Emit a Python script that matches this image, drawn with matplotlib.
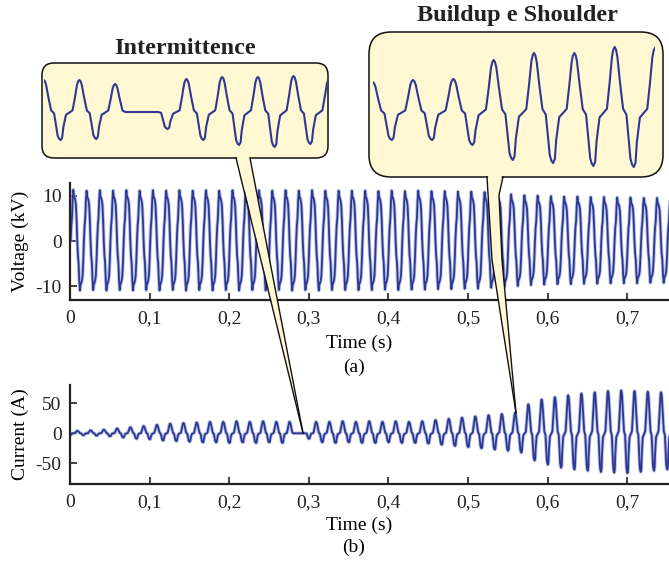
import numpy as np
import matplotlib
matplotlib.use('Agg')
import matplotlib.pyplot as plt
from matplotlib.patches import FancyBboxPatch, Polygon

plt.rcParams['font.family'] = ['Liberation Serif', 'DejaVu Serif']
plt.rcParams['axes.unicode_minus'] = False

# ---------------- data ----------------
freq = 60.0
xtick_vals = [0, 0.1, 0.2, 0.3, 0.4, 0.5, 0.6, 0.7]
xtick_labels = ['0', '0,1', '0,2', '0,3', '0,4', '0,5', '0,6', '0,7']
v_ticks = [-10, 0, 10]
i_ticks = [-50, 0, 50]

# voltage: per-cycle positive / negative peak (kV)
volt_pos = [11.3, 11.1, 11.2, 11.1, 11.2, 11.1, 11.2, 11.1, 11.2, 11.1,
            11.2, 11.1, 11.2, 11.1, 11.2, 11.1, 11.2, 11.1, 11.2, 11.1,
            11.1, 11.1, 11.1, 11.0, 11.1, 11.0, 11.1, 11.0, 11.0, 10.9,
            10.9, 10.8, 10.6, 10.3, 10.1, 10.0, 9.9, 9.8, 9.8, 9.7,
            9.7, 9.6, 9.6, 9.5, 9.5, 9.5]
volt_neg = [10.9, 10.8, 10.9, 10.8, 10.9, 10.8, 10.9, 10.8, 10.9, 10.8,
            10.9, 10.8, 10.9, 10.8, 10.9, 10.8, 10.9, 10.8, 10.9, 10.8,
            10.8, 10.8, 10.8, 10.7, 10.8, 10.7, 10.7, 10.6, 10.6, 10.5,
            10.5, 10.3, 10.1, 9.9, 9.7, 9.6, 9.5, 9.5, 9.4, 9.4,
            9.3, 9.3, 9.3, 9.2, 9.2, 9.2]
volt_t0 = 0.0008
# one voltage cycle, normalised (starts at rising zero crossing)
volt_shape = [0.0, 0.3, 0.45, 0.8, 1.0, 0.88, 0.85, 0.8, 0.7, 0.4,
              0.0, -0.3, -0.45, -0.8, -1.0, -0.88, -0.85, -0.8, -0.7, -0.4]

# current: peak k and trough following peak k (A)
cur_pos = [3, 4, 5, 6, 8, 10, 12, 14, 16, 17,
           18, 19, 19, 20, 19, 20, 19, 19, 0, 19,
           19, 20, 19, 20, 19, 20, 19, 20, 22, 24,
           26, 28, 30, 32, 34, 48, 56, 60, 63, 66,
           68, 70, 71, 70, 69, 68, 66, 64]
cur_neg = [3, 3, 4, 5, 7, 9, 10, 12, 13, 14,
           15, 15, 16, 15, 16, 15, 16, 0, 9, 15,
           16, 15, 16, 16, 15, 16, 16, 17, 19, 21,
           23, 25, 27, 29, 32, 45, 52, 57, 60, 62,
           64, 65, 66, 64, 62, 60, 60]
cur_t0 = -0.0075
# one current cycle (phase in 1/120 of a cycle, starting at the peak)
cur_phase = [0, 4, 8, 16, 25, 35, 41, 47, 52, 57, 62, 66, 75, 97, 105, 112, 116]
cur_shape = [1.0, 0.96, 0.85, 0.45, 0.05, -0.05, -0.45, -0.85, -0.96, -1.0,
             -0.92, -0.55, -0.1, 0.05, 0.45, 0.85, 0.96]

# zoom insets (amplitudes in pixels of the inset window)
int_pos = [32, 32, 28, 0, 33, 35, 35, 36, 33]
int_neg = [28, 27, 0, 17, 28, 33, 35, 32]
bld_pos = [30, 32, 33, 52, 59, 59, 65, 64]
bld_neg = [28, 28, 33, 48, 51, 54, 55]


def build_current(pos, neg, t0, period):
    t, y = [], []
    for k in range(len(neg)):
        for ph, s in zip(cur_phase, cur_shape):
            f = ph / 120.0
            if s >= 0:
                a = pos[k] if f < 0.5 else pos[k + 1]
            else:
                a = neg[k]
            t.append(t0 + (k + f) * period)
            y.append(s * a)
    n = len(neg)
    t.append(t0 + n * period)
    y.append(pos[n])
    return np.array(t), np.array(y)


def build_voltage(pos, neg, t0, period):
    t, y = [], []
    m = len(volt_shape)
    for k in range(len(pos)):
        for j, s in enumerate(volt_shape):
            a = pos[k] if s >= 0 else neg[k]
            t.append(t0 + (k + j / m) * period)
            y.append(s * a)
    return np.array(t), np.array(y)


W, H = 669, 565
fig = plt.figure(figsize=(W / 100, H / 100), dpi=100)

line_col = '#2b3894'
halo_col = '#a9b0de'
spine_col = '#222222'


def fx(px):
    return px / W


def fy(py):
    return 1 - py / H


def style_axes(ax, yt):
    ax.spines['top'].set_visible(False)
    ax.spines['right'].set_visible(False)
    for s in ['left', 'bottom']:
        ax.spines[s].set_linewidth(1.6)
        ax.spines[s].set_color(spine_col)
    ax.tick_params(direction='in', length=5, width=1.2, labelsize=14,
                   colors=spine_col, labelcolor='#222222')
    ax.tick_params(axis='x', pad=7)
    ax.tick_params(axis='y', pad=6)
    ax.set_xticks(xtick_vals)
    ax.set_xticklabels(xtick_labels)
    ax.set_yticks(yt)
    ax.set_yticklabels([str(v) for v in yt])
    ax.set_xlim(0, (W - 70) / 796.0)


# --- (a) voltage
ax1 = fig.add_axes([fx(70), fy(300), 1 - fx(70), fy(183) - fy(300)])
tv, vv = build_voltage(volt_pos, volt_neg, volt_t0, 1 / freq)
ax1.plot(tv, vv, color=halo_col, lw=2.6, alpha=0.8)
ax1.plot(tv, vv, color=line_col, lw=1.3)
ax1.set_ylim(-13.0, 12.8)
style_axes(ax1, v_ticks)
ax1.set_ylabel('Voltage (kV)', fontsize=14)
ax1.yaxis.set_label_coords(-0.068, 0.5)

# --- (b) current
ax2 = fig.add_axes([fx(70), fy(484), 1 - fx(70), fy(385) - fy(484)])
tc, cc = build_current(cur_pos, cur_neg, cur_t0, 1 / freq)
ax2.plot(tc, cc, color=halo_col, lw=2.6, alpha=0.8)
ax2.plot(tc, cc, color=line_col, lw=1.3)
ax2.set_ylim(-84, 80)
style_axes(ax2, i_ticks)
ax2.set_ylabel('Current (A)', fontsize=14)
ax2.yaxis.set_label_coords(-0.068, 0.5)

fig.text(fx(359), fy(343), 'Time (s)', ha='center', va='center', fontsize=14)
fig.text(fx(354), fy(367), '(a)', ha='center', va='center', fontsize=14)
fig.text(fx(359), fy(525), 'Time (s)', ha='center', va='center', fontsize=14)
fig.text(fx(354), fy(547), '(b)', ha='center', va='center', fontsize=14)

# --- overlay with call-out boxes
ov = fig.add_axes([0, 0, 1, 1], zorder=5)
ov.set_xlim(0, W)
ov.set_ylim(H, 0)
ov.axis('off')
ov.patch.set_alpha(0)

box_col = '#fff8d2'
b1 = FancyBboxPatch((42, 63), 286, 95, boxstyle='round,pad=0,rounding_size=12',
                    facecolor=box_col, edgecolor='#111111', lw=1.1)
b2 = FancyBboxPatch((369, 32), 294, 145, boxstyle='round,pad=0,rounding_size=22',
                    facecolor=box_col, edgecolor='#111111', lw=1.1)
ov.add_patch(b1)
ov.add_patch(b2)

p1 = [(236.5, 155.5), (303, 433), (249.5, 155.5)]
ov.add_patch(Polygon(p1, closed=True, facecolor=box_col, edgecolor='none', zorder=3))
ov.plot([236, 303], [158, 433], color='#111111', lw=1.0, zorder=4)
ov.plot([250, 303], [158, 433], color='#111111', lw=1.0, zorder=4)

p2_left = [(487, 177), (492, 260), (516, 413)]
p2_right = [(516, 413), (502, 260), (499, 195), (503, 177)]
p2 = [(488, 174.5)] + p2_left[1:] + p2_right[1:-1] + [(502, 174.5)]
ov.add_patch(Polygon(p2, closed=True, facecolor=box_col, edgecolor='none', zorder=3))
ov.plot([q[0] for q in p2_left], [q[1] for q in p2_left], color='#111111', lw=1.0, zorder=4)
ov.plot([q[0] for q in p2_right], [q[1] for q in p2_right], color='#111111', lw=1.0, zorder=4)

ov.text(185, 48, 'Intermittence', ha='center', va='center', fontsize=17.5,
        fontweight='bold', color='#222222')
ov.text(517, 16, 'Buildup e Shoulder', ha='center', va='center', fontsize=17.5,
        fontweight='bold', color='#222222')

# --- inset waveforms
in1 = fig.add_axes([fx(43.7), fy(158), fx(326.7) - fx(43.7), fy(63) - fy(158)], zorder=6)
t1, y1 = build_current(int_pos, int_neg, 0.0, 1.0)
in1.plot(t1, y1, color=line_col, lw=1.5)
in1.set_xlim(0, 7.93)
in1.set_ylim(-46, 49)
in1.axis('off')
in1.patch.set_alpha(0)

in2 = fig.add_axes([fx(372.7), fy(177), fx(655) - fx(372.7), fy(32) - fy(177)], zorder=6)
t2, y2 = build_current(bld_pos, bld_neg, 0.0, 1.0)
in2.plot(t2, y2, color=line_col, lw=1.5)
in2.set_xlim(0, 7.0)
in2.set_ylim(-65, 80)
in2.axis('off')
in2.patch.set_alpha(0)

fig.savefig('out.png', dpi=100)
